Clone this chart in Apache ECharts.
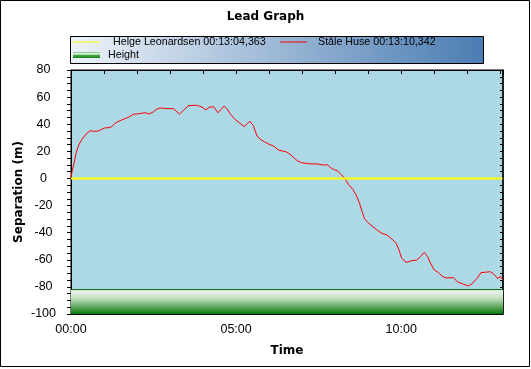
<!DOCTYPE html>
<html>
<head>
<meta charset="utf-8">
<script src="https://cdn.jsdelivr.net/npm/echarts@6/dist/echarts.min.js"></script>
<style>html,body{margin:0;padding:0;background:#fff}#c{width:531px;height:369px}</style>
</head>
<body>
<div id="c"></div>
<script>
// Data
var titleText = 'Lead Graph';
var seriesNames = ['Helge Leonardsen 00:13:04,363', 'Ståle Huse 00:13:10,342', 'Height'];
// reference (leader) line: separation 0 over the whole time (seconds)
var helgeTimes = [0, 784.4];
var helgeSeparation = [0, 0];
// Ståle Huse separation (m) vs time (s)
var staleTimes = [0,1.8,5.5,9.1,14,20,27.3,34.5,40.5,49.6,55.8,60.5,69,74,80,89,98,104,113,125,135,142,150,156,162,174,186,197,205,213,228,238,245,251,259,267,273,278,283,290,298,307,315,319,325,331,338,344,351,359,368,377,380,392,401,411,419,435,447,459,466,471,477,484,492,498,504,512,518,524,529,533,539,547,556,565,574,583,591,596,601,609,619,628,635,642,648,654,660,668,674,681,695,702,712,722,728,738,745,753,762,768,775,781,785];
var staleSeparation = [0,5,11.2,18.5,24.7,28.9,32.8,35.2,34.8,35,36.2,37.2,37.5,38.2,40.7,42.6,44.1,45.1,47.3,47.8,48.5,47.5,49.2,51.2,52,51.5,51.5,47.5,50.5,53.7,54,52.7,50.5,52.5,52.9,48.5,51,53.4,51.7,47.3,43.6,40.7,38.2,40,42.2,39.2,31.3,28.9,27.1,25.4,23.9,21,20.4,19.5,16.8,13.1,11.6,10.7,10.7,9.9,10.1,8.2,6.7,5.7,2.5,-0.2,-4.3,-8,-12.2,-17.9,-24.5,-29.4,-32.4,-35.1,-38,-40.5,-41.7,-44.7,-47.8,-52.8,-58.9,-61.9,-60.7,-60.2,-57.7,-54.5,-57.7,-63.1,-67.5,-69.5,-72,-73.4,-73.2,-76.2,-77.9,-79.3,-77.9,-73.7,-69.5,-69.2,-68.8,-70.5,-73.7,-72.5,-75];
// height profile (drawn on the separation scale)
var heightTimes = [0, 785];
var heightValues = [-82, -82];
var xMin = 0, xMax = 785, yMin = -100, yMax = 80;
var xLabelTicks = [0, 300, 600];
var yLabelStep = 20;

function zip(a, b) { return a.map(function (v, i) { return [v, b[i]]; }); }
function mmss(v) {
  var m = Math.floor(v / 60), s = Math.round(v % 60);
  return (m < 10 ? '0' : '') + m + ':' + (s < 10 ? '0' : '') + s;
}
var labelFont = 'Liberation Sans';
var boldFont = 'DejaVu Sans';
var greenGrad = new echarts.graphic.LinearGradient(0, 0, 0, 1, [
  { offset: 0, color: '#f4f7f4' }, { offset: 0.35, color: '#c2e0c2' }, { offset: 1, color: '#0a7a0a' }
]);
var legendGreen = new echarts.graphic.LinearGradient(0, 0, 0, 1, [
  { offset: 0, color: '#5cb85c' }, { offset: 0.3, color: '#ffffff' }, { offset: 0.55, color: '#4aa84a' }, { offset: 1, color: '#128212' }
]);
function legendItem(name, left, top, icon, h, color, pad) {
  return {
    left: left, top: top, padding: 0, itemWidth: 27, itemHeight: h, selectedMode: false,
    data: [{ name: name, icon: icon, itemStyle: { color: color, borderWidth: 0 } }],
    textStyle: { fontFamily: labelFont, fontSize: 10.7, color: '#000', padding: [0, 0, 0, pad] }
  };
}
function line(w) { return { show: true, onZero: false, lineStyle: { color: '#000', width: w || 1 } }; }
function ticks(inside, len) { return { show: true, inside: inside, length: len, lineStyle: { color: '#000', width: 1 } }; }

var chart = echarts.init(document.getElementById('c'), null, { renderer: 'canvas' });
chart.setOption({
  animation: false,
  backgroundColor: '#fff',
  title: { text: titleText, left: 'center', top: 11, padding: 0,
    textStyle: { fontFamily: boldFont, fontWeight: 'bold', fontSize: 12, color: '#000' } },
  graphic: [
    { type: 'rect', z: 0, shape: { x: 0.5, y: 0.5, width: 529, height: 366 }, style: { fill: null, stroke: '#000', lineWidth: 1 } },
    { type: 'rect', z: 0, shape: { x: 70.5, y: 36.5, width: 413, height: 27 },
      style: { fill: new echarts.graphic.LinearGradient(0, 0, 1, 1, [{ offset: 0, color: '#eef3f9' }, { offset: 1, color: '#4a7cb2' }]),
        stroke: '#000', lineWidth: 1 } }
  ],
  legend: [
    legendItem(seriesNames[0], 73, 36.5, 'rect', 1, '#ffff00', 8),
    legendItem(seriesNames[1], 280, 36.5, 'rect', 1, '#ff0000', 6),
    legendItem(seriesNames[2], 73, 49.5, 'rect', 6, legendGreen, 3)
  ],
  grid: { left: 71, top: 70, width: 432, height: 244, show: true, backgroundColor: '#add8e6', borderWidth: 1, borderColor: '#000' },
  xAxis: [
    { type: 'value', position: 'bottom', min: xMin, max: xMax, interval: 60,
      name: 'Time', nameLocation: 'middle', nameGap: 31, nameMoveOverlap: false,
      nameTextStyle: { fontFamily: boldFont, fontWeight: 'bold', fontSize: 12, color: '#000', verticalAlign: 'top' },
      axisLine: line(1), axisTick: ticks(true, 3), splitLine: { show: false },
      axisLabel: { show: true, margin: 9, showMaxLabel: false, fontFamily: labelFont, fontSize: 12.5, color: '#000',
        formatter: function (v) { return xLabelTicks.indexOf(v) >= 0 ? mmss(v) : ''; } } },
    { type: 'value', position: 'top', min: xMin, max: xMax, interval: 60,
      axisLine: line(1), axisTick: ticks(true, 4), axisLabel: { show: false }, splitLine: { show: false } }
  ],
  yAxis: [
    { type: 'value', position: 'left', min: yMin, max: yMax, interval: 5,
      name: 'Separation (m)', nameLocation: 'middle', nameGap: 46, nameRotate: 90, nameMoveOverlap: false,
      nameTextStyle: { fontFamily: boldFont, fontWeight: 'bold', fontSize: 12, color: '#000' },
      axisLine: line(1), axisTick: ticks(false, 4), splitLine: { show: false },
      axisLabel: { show: true, margin: 27.5, align: 'center', fontFamily: labelFont, fontSize: 12.5, color: '#000',
        formatter: function (v) { return (v % yLabelStep === 0) ? String(v) : ''; } } },
    { type: 'value', position: 'right', min: yMin, max: yMax, interval: 5,
      axisLine: line(1.5), axisTick: ticks(true, 3), axisLabel: { show: false }, splitLine: { show: false } }
  ],
  series: [
    { name: seriesNames[2], type: 'line', xAxisIndex: 0, yAxisIndex: 0, data: zip(heightTimes, heightValues),
      showSymbol: false, symbol: 'none', lineStyle: { color: '#006400', width: 1 }, itemStyle: { color: '#0a7a0a' },
      areaStyle: { origin: 'start', color: greenGrad, opacity: 1 }, z: 1 },
    { name: seriesNames[1], type: 'line', xAxisIndex: 0, yAxisIndex: 0, data: zip(staleTimes, staleSeparation),
      showSymbol: false, symbol: 'none', lineStyle: { color: '#ff0000', width: 1 }, itemStyle: { color: '#ff0000' }, z: 2 },
    { name: seriesNames[0], type: 'line', xAxisIndex: 1, yAxisIndex: 1, data: zip(helgeTimes, helgeSeparation),
      showSymbol: false, symbol: 'none', lineStyle: { color: '#ffff00', width: 2 }, itemStyle: { color: '#ffff00' }, z: 3 }
  ]
});
</script>
</body>
</html>
